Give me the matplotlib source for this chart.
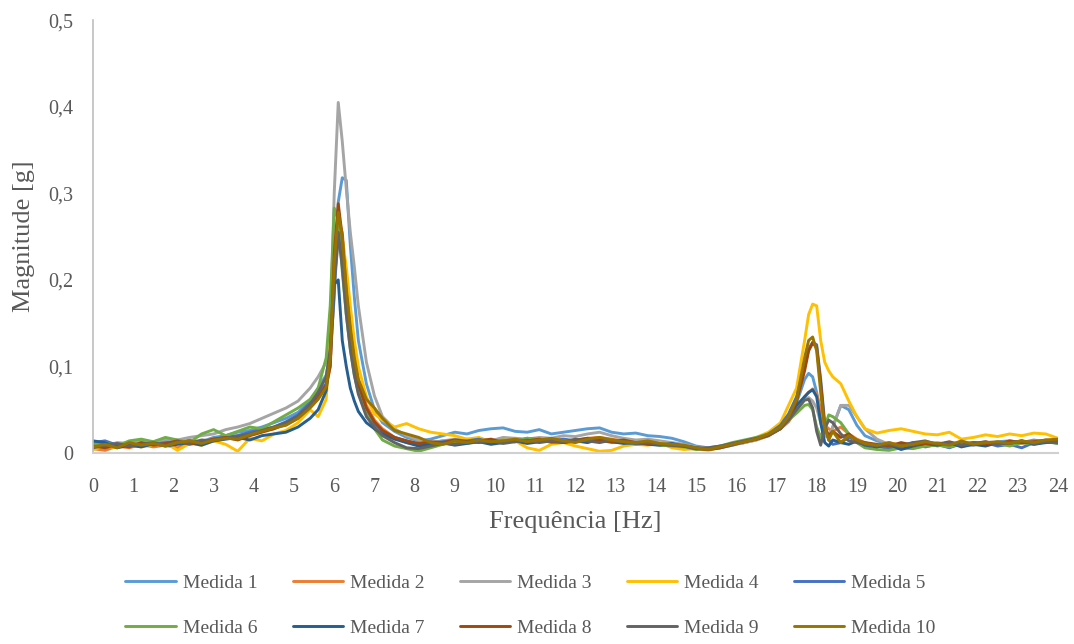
import matplotlib
matplotlib.use("Agg")
from matplotlib import pyplot as plt
import numpy as np

# frequency grid [Hz], denser around the two peaks
freq = [0, 0.3, 0.6, 0.9, 1.2, 1.5, 1.8, 2.1, 2.4, 2.7, 3.0, 3.3, 3.6, 3.9, 4.2, 4.5, 4.8,
        5.1, 5.4, 5.6, 5.8, 5.9, 6.0, 6.1, 6.2, 6.3, 6.4, 6.5, 6.6, 6.8, 7.0, 7.2,
        7.5, 7.8, 8.1, 8.4, 8.7, 9.0, 9.3, 9.6, 9.9, 10.2, 10.5, 10.8, 11.1, 11.4, 11.7,
        12.0, 12.3, 12.6, 12.9, 13.2, 13.5, 13.8, 14.1, 14.4, 14.7, 15.0, 15.3, 15.6, 15.9,
        16.2, 16.5,
        16.8, 17.1, 17.3, 17.5, 17.7, 17.8, 17.9, 18.0, 18.1, 18.2, 18.3, 18.4, 18.6, 18.8,
        19.0, 19.2,
        19.5, 19.8, 20.1, 20.4, 20.7, 21.0, 21.3, 21.6, 21.9, 22.2, 22.5, 22.8, 23.1, 23.4,
        23.7, 24.0]

# magnitudes in mg
medida_1 = [8, 10, 7, 12, 11, 9, 14, 12, 15, 13, 18, 20, 24, 26, 30, 35, 40,
            47, 60, 75, 90, 115, 180, 290, 318, 315, 240, 180, 130, 80, 50, 35,
            25, 18, 14, 16, 20, 24, 22, 26, 28, 29, 25, 24, 27, 22, 24, 26, 28, 29, 24, 22, 23,
            20, 19, 17, 13, 8, 6, 8, 10, 12, 16,
            22, 32, 42, 58, 85, 92, 88, 70, 45, 22, 18, 30, 55, 50, 32, 20,
            14, 10, 8, 9, 12, 10, 9, 11, 12, 10, 13, 14, 12, 15, 13, 14]
medida_2 = [5, 3, 8, 6, 10, 7, 9, 6, 12, 14, 15, 17, 20, 22, 26, 28, 33,
            40, 55, 66, 75, 100, 190, 268, 255, 200, 150, 110, 85, 55, 38, 28,
            18, 12, 10, 12, 14, 13, 16, 15, 14, 17, 16, 15, 14, 16, 15, 14, 17, 18, 16, 14, 12,
            13, 11, 10, 9, 7, 5, 6, 9, 12, 15,
            20, 28, 36, 50, 65, 70, 74, 68, 50, 32, 28, 25, 30, 22, 16, 12,
            8, 12, 9, 10, 13, 8, 11, 12, 10, 13, 9, 12, 11, 13, 12, 15]
medida_3 = [10, 8, 12, 11, 14, 13, 16, 15, 18, 20, 22, 27, 30, 34, 40, 46, 52,
            60, 75, 88, 105, 135, 300, 405, 360, 305, 255, 215, 170, 105, 66, 42,
            28, 20, 15, 12, 14, 16, 15, 17, 14, 18, 17, 16, 18, 17, 20, 19, 22, 24, 20, 17, 15,
            16, 14, 12, 10, 7, 5, 7, 10, 12, 15,
            20, 30, 38, 50, 62, 64, 60, 52, 35, 20, 18, 30, 55, 55, 42, 28,
            16, 10, 8, 11, 9, 12, 10, 9, 12, 11, 10, 13, 12, 11, 14, 13]
medida_4 = [4, 8, 6, 10, 7, 9, 12, 3, 11, 9, 14, 10, 2, 17, 14, 22, 26,
            35, 50, 42, 62, 130, 200, 245, 248, 215, 170, 130, 100, 65, 45, 38,
            30, 34, 28, 24, 22, 20, 16, 18, 12, 15, 14, 6, 3, 10, 12, 8, 5, 2, 3, 8, 10,
            9, 12, 6, 4, 5, 3, 6, 10, 14, 18,
            24, 35, 55, 75, 130, 160, 172, 170, 130, 105, 95, 88, 80, 60, 42, 28,
            23, 26, 28, 25, 22, 21, 24, 16, 18, 21, 19, 22, 20, 23, 22, 17]
medida_5 = [12, 14, 9, 11, 8, 10, 12, 11, 14, 12, 16, 18, 20, 24, 27, 30, 36,
            44, 58, 68, 80, 105, 190, 250, 225, 175, 135, 100, 78, 50, 34, 25,
            18, 14, 10, 11, 13, 15, 14, 16, 12, 14, 13, 17, 15, 13, 16, 14, 15, 17, 14, 12, 11,
            13, 10, 9, 8, 6, 4, 6, 9, 13, 17,
            22, 32, 45, 65, 100, 120, 128, 125, 85, 35, 15, 10, 12, 18, 14, 10,
            8, 5, 9, 12, 7, 10, 6, 11, 9, 12, 8, 10, 6, 12, 14, 11]
medida_6 = [10, 12, 8, 14, 16, 13, 18, 15, 12, 22, 27, 20, 25, 30, 28, 36, 44,
            52, 62, 75, 110, 170, 283, 270, 210, 160, 120, 90, 70, 45, 28, 15,
            8, 5, 2, 6, 10, 13, 11, 14, 12, 15, 13, 17, 16, 12, 14, 13, 16, 15, 12, 13, 10,
            11, 9, 8, 7, 4, 5, 8, 12, 15, 18,
            22, 30, 38, 46, 55, 56, 50, 30, 18, 30, 44, 42, 35, 22, 12, 6,
            4, 3, 6, 5, 8, 9, 7, 10, 12, 9, 11, 8, 12, 10, 13, 11]
medida_7 = [14, 12, 6, 9, 7, 11, 8, 10, 12, 9, 14, 16, 18, 15, 20, 22, 24,
            30, 40, 50, 72, 115, 195, 200, 130, 100, 75, 60, 48, 35, 28, 22,
            16, 12, 8, 10, 12, 9, 11, 13, 10, 12, 14, 11, 13, 15, 12, 14, 12, 16, 13, 11, 12,
            10, 9, 11, 8, 6, 5, 7, 10, 13, 16,
            21, 30, 40, 55, 65, 70, 73, 65, 35, 12, 8, 15, 12, 10, 14, 9,
            7, 10, 4, 8, 11, 9, 12, 7, 10, 8, 12, 11, 14, 10, 12, 13]
medida_8 = [8, 6, 10, 7, 12, 9, 11, 14, 10, 13, 16, 18, 15, 20, 24, 28, 34,
            42, 55, 64, 78, 100, 230, 288, 250, 185, 140, 105, 80, 52, 36, 26,
            18, 14, 11, 13, 12, 15, 13, 14, 16, 12, 15, 14, 16, 13, 12, 15, 17, 14, 13, 15, 12,
            11, 10, 9, 8, 5, 4, 6, 10, 13, 16,
            20, 28, 40, 60, 95, 118, 127, 122, 80, 30, 20, 25, 18, 22, 14, 12,
            10, 8, 12, 9, 11, 10, 13, 9, 12, 11, 10, 14, 12, 13, 15, 14]
medida_9 = [6, 9, 11, 8, 10, 12, 9, 13, 11, 15, 14, 17, 19, 22, 26, 30, 35,
            42, 56, 70, 88, 120, 200, 255, 215, 160, 120, 90, 68, 42, 30, 20,
            12, 6, 5, 8, 11, 10, 13, 12, 14, 11, 13, 15, 12, 14, 13, 16, 14, 12, 15, 13, 11,
            12, 10, 9, 8, 5, 6, 8, 11, 14, 17,
            21, 28, 38, 50, 61, 62, 52, 25, 9, 28, 38, 35, 22, 14, 12, 10,
            8, 10, 7, 12, 14, 10, 12, 9, 11, 13, 10, 12, 14, 11, 13, 12]
medida_10 = [7, 10, 6, 12, 9, 11, 8, 12, 14, 11, 15, 17, 16, 21, 25, 29, 32,
             40, 52, 62, 76, 110, 220, 278, 250, 190, 145, 110, 85, 62, 52, 40,
             26, 22, 18, 12, 10, 14, 12, 15, 13, 14, 16, 13, 15, 17, 14, 12, 16, 18, 15, 13, 12,
             14, 11, 10, 9, 6, 4, 7, 10, 13, 16,
             22, 30, 42, 62, 110, 130, 134, 118, 70, 30, 15, 25, 12, 20, 15, 11,
             9, 12, 8, 10, 13, 11, 9, 14, 10, 12, 13, 11, 14, 12, 15, 16]

series = [medida_1, medida_2, medida_3, medida_4, medida_5,
          medida_6, medida_7, medida_8, medida_9, medida_10]
labels = ["Medida %d" % (i + 1) for i in range(10)]
colors = ['#5B9BD5', '#ED7D31', '#A5A5A5', '#FFC000', '#4472C4',
          '#70AD47', '#255E91', '#9E480E', '#636363', '#997300']

x_ticks = list(range(0, 25))
y_ticks = [0, 0.1, 0.2, 0.3, 0.4, 0.5]
y_tick_labels = ["0", "0,1", "0,2", "0,3", "0,4", "0,5"]

plt.rcParams['font.family'] = ['Liberation Serif', 'DejaVu Serif']
txt = '#595959'

fig = plt.figure(figsize=(10.74, 6.44), dpi=100)
ax = fig.add_axes([0.0866, 0.2966, 0.8984, 0.672])

lines = []
for vals, lab, c in zip(series, labels, colors):
    ln, = ax.plot(freq, np.array(vals) / 1000.0, color=c, lw=2.1, label=lab,
                  solid_joinstyle='round', solid_capstyle='round')
    lines.append(ln)

ax.set_xlim(0, 24)
ax.set_ylim(0, 0.5)
ax.set_xticks(x_ticks)
ax.set_xticklabels([str(t) for t in x_ticks])
ax.set_yticks(y_ticks)
ax.set_yticklabels(y_tick_labels)
ax.tick_params(length=0, labelsize=14.5, labelcolor=txt)
ax.tick_params(axis='x', pad=18)
ax.tick_params(axis='y', pad=14)

for s in ['top', 'right']:
    ax.spines[s].set_visible(False)
ax.spines['left'].set_color('#BFBFBF')
ax.spines['bottom'].set_color('#D0D0D0')
ax.spines['left'].set_linewidth(1.2)
ax.spines['bottom'].set_linewidth(1.5)

ax.set_xlabel("Frequência [Hz]", fontsize=19, color=txt, labelpad=10)
ax.set_ylabel("Magnitude [g]", fontsize=19, color=txt, labelpad=10)

# legend filled row by row, like the original
order = [0, 5, 1, 6, 2, 7, 3, 8, 4, 9]
fig.legend([lines[i] for i in order], [labels[i] for i in order],
           loc='lower center', bbox_to_anchor=(0.494, -0.016), ncol=5, frameon=False,
           fontsize=14, labelcolor=txt, handlelength=2.6, handletextpad=0.36,
           columnspacing=1.8, labelspacing=1.4)

plt.savefig("out.png", dpi=100)
